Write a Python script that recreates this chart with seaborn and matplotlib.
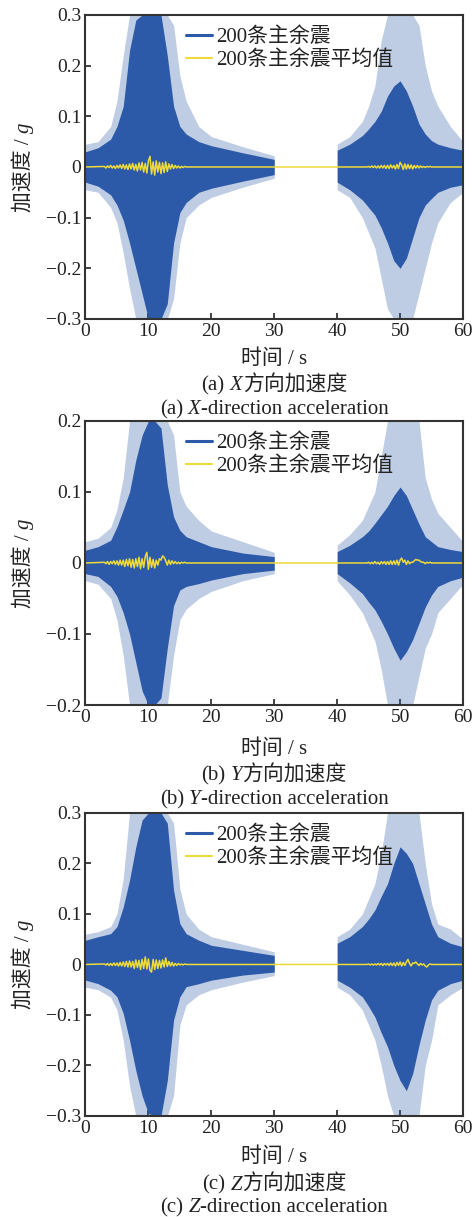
"""
200 main-aftershock records: X / Y / Z acceleration histories
Run: python plot.py
"""

import matplotlib
matplotlib.use('Agg')

import matplotlib.pyplot as plt
import numpy as np
import pandas as pd
import seaborn as sns
from matplotlib.lines import Line2D
from matplotlib.transforms import IdentityTransform


# ── Data ─────────────────────────────────────────────────────────────────────

# envelope sample times, main shock (0-30 s) and aftershock (40-60 s)
ENV_T1 = [0, 2, 4, 5, 6, 7, 8, 9, 10, 11, 12, 13, 14, 15, 16, 18, 20, 25, 30]
ENV_T2 = [40, 42, 44, 45, 46, 47, 48, 49, 50, 51, 52, 53, 54, 55, 56, 58, 60]

# X direction
X_CORE_UP1  = [0.030, 0.038, 0.055, 0.080, 0.120, 0.230, 0.290, 0.300, 0.300, 0.300, 0.300, 0.220, 0.120, 0.080, 0.065, 0.050, 0.042, 0.028, 0.015]
X_CORE_LO1  = [-0.030, -0.038, -0.055, -0.075, -0.105, -0.150, -0.200, -0.250, -0.300, -0.300, -0.300, -0.270, -0.150, -0.090, -0.070, -0.050, -0.042, -0.028, -0.015]
X_OUTER_UP1 = [0.045, 0.050, 0.080, 0.130, 0.220, 0.300, 0.300, 0.300, 0.300, 0.300, 0.300, 0.300, 0.280, 0.180, 0.130, 0.080, 0.060, 0.040, 0.022]
X_OUTER_LO1 = [-0.045, -0.050, -0.080, -0.110, -0.170, -0.240, -0.300, -0.300, -0.300, -0.300, -0.300, -0.300, -0.260, -0.150, -0.100, -0.075, -0.060, -0.040, -0.022]
X_CORE_UP2  = [0.033, 0.045, 0.062, 0.075, 0.090, 0.110, 0.140, 0.160, 0.170, 0.150, 0.120, 0.085, 0.065, 0.052, 0.045, 0.038, 0.033]
X_CORE_LO2  = [-0.030, -0.045, -0.065, -0.080, -0.095, -0.120, -0.150, -0.185, -0.200, -0.180, -0.140, -0.100, -0.075, -0.062, -0.050, -0.040, -0.035]
X_OUTER_UP2 = [0.045, 0.060, 0.090, 0.120, 0.160, 0.250, 0.300, 0.300, 0.300, 0.300, 0.300, 0.280, 0.200, 0.150, 0.120, 0.080, 0.050]
X_OUTER_LO2 = [-0.045, -0.060, -0.100, -0.130, -0.160, -0.220, -0.280, -0.300, -0.300, -0.300, -0.300, -0.250, -0.200, -0.150, -0.110, -0.070, -0.050]

# Y direction
Y_CORE_UP1  = [0.018, 0.023, 0.032, 0.051, 0.075, 0.100, 0.145, 0.180, 0.200, 0.200, 0.190, 0.110, 0.065, 0.046, 0.037, 0.030, 0.023, 0.014, 0.009]
Y_CORE_LO1  = [-0.015, -0.019, -0.033, -0.047, -0.070, -0.100, -0.140, -0.180, -0.200, -0.200, -0.190, -0.120, -0.060, -0.038, -0.033, -0.029, -0.024, -0.015, -0.010]
Y_OUTER_UP1 = [0.030, 0.035, 0.050, 0.075, 0.120, 0.200, 0.200, 0.200, 0.200, 0.200, 0.200, 0.200, 0.180, 0.100, 0.080, 0.060, 0.045, 0.030, 0.015]
Y_OUTER_LO1 = [-0.025, -0.030, -0.050, -0.080, -0.130, -0.200, -0.200, -0.200, -0.200, -0.200, -0.200, -0.200, -0.130, -0.080, -0.065, -0.050, -0.040, -0.025, -0.015]
Y_CORE_UP2  = [0.016, 0.025, 0.037, 0.045, 0.056, 0.068, 0.080, 0.095, 0.107, 0.095, 0.075, 0.055, 0.037, 0.030, 0.023, 0.019, 0.016]
Y_CORE_LO2  = [-0.015, -0.028, -0.043, -0.055, -0.066, -0.082, -0.100, -0.120, -0.137, -0.125, -0.108, -0.085, -0.062, -0.045, -0.033, -0.025, -0.020]
Y_OUTER_UP2 = [0.025, 0.040, 0.060, 0.080, 0.100, 0.150, 0.200, 0.200, 0.200, 0.200, 0.200, 0.200, 0.120, 0.090, 0.070, 0.050, 0.030]
Y_OUTER_LO2 = [-0.025, -0.045, -0.070, -0.090, -0.110, -0.150, -0.200, -0.200, -0.200, -0.200, -0.200, -0.160, -0.120, -0.100, -0.070, -0.050, -0.030]

# Z direction
Z_CORE_UP1  = [0.048, 0.055, 0.061, 0.075, 0.114, 0.167, 0.233, 0.286, 0.300, 0.300, 0.300, 0.280, 0.147, 0.081, 0.061, 0.048, 0.038, 0.028, 0.018]
Z_CORE_LO1  = [-0.031, -0.038, -0.051, -0.064, -0.097, -0.150, -0.210, -0.260, -0.295, -0.300, -0.300, -0.230, -0.110, -0.064, -0.044, -0.038, -0.031, -0.021, -0.015]
Z_OUTER_UP1 = [0.060, 0.065, 0.075, 0.100, 0.170, 0.300, 0.300, 0.300, 0.300, 0.300, 0.300, 0.300, 0.280, 0.150, 0.100, 0.070, 0.055, 0.040, 0.025]
Z_OUTER_LO1 = [-0.045, -0.050, -0.065, -0.090, -0.150, -0.240, -0.300, -0.300, -0.300, -0.300, -0.300, -0.300, -0.260, -0.120, -0.080, -0.060, -0.050, -0.035, -0.022]
Z_CORE_UP2  = [0.042, 0.055, 0.075, 0.090, 0.108, 0.135, 0.160, 0.200, 0.233, 0.220, 0.200, 0.160, 0.120, 0.080, 0.055, 0.042, 0.035]
Z_CORE_LO2  = [-0.031, -0.045, -0.064, -0.083, -0.104, -0.135, -0.163, -0.200, -0.230, -0.250, -0.216, -0.160, -0.110, -0.070, -0.051, -0.038, -0.031]
Z_OUTER_UP2 = [0.055, 0.070, 0.100, 0.130, 0.160, 0.220, 0.300, 0.300, 0.300, 0.300, 0.300, 0.300, 0.200, 0.120, 0.080, 0.070, 0.050]
Z_OUTER_LO2 = [-0.045, -0.060, -0.090, -0.120, -0.150, -0.200, -0.260, -0.300, -0.300, -0.300, -0.300, -0.300, -0.200, -0.150, -0.080, -0.060, -0.045]

# mean of the 200 records, sampled every 0.25 s from 3 s and from 45 s
MEAN_DT = 0.25
MEAN_START1, MEAN_START2 = 3.0, 45.0
X_MEAN1 = [0.001, -0.002, 0.002, -0.001, 0.003, -0.002, 0.002, -0.003, 0.003, -0.002, 0.004, -0.003,
           0.005, -0.004, 0.004, -0.005, 0.006, -0.004, 0.007, -0.006, 0.005, -0.008, 0.008, -0.006,
           0.009, -0.010, 0.007, -0.012, 0.012, 0.021, -0.014, 0.010, -0.016, 0.012, -0.010, 0.009,
           -0.013, 0.008, -0.011, 0.010, -0.009, 0.006, -0.004, 0.005, -0.003, 0.003, -0.002, 0.002,
           -0.002, 0.001, -0.001, 0.001, 0.000]
X_MEAN2 = [0.001, -0.001, 0.002, -0.001, 0.002, -0.002, 0.002, -0.002, 0.003, -0.002, 0.003, -0.003,
           0.003, -0.003, 0.004, -0.002, 0.003, -0.004, 0.005, -0.003, 0.009, 0.004, -0.005, 0.006,
           -0.004, 0.005, -0.003, 0.004, -0.004, 0.003, -0.002, 0.003, -0.002, 0.002, -0.001, 0.001,
           -0.001, 0.001, 0.000, 0.001, 0.000]
Y_MEAN1 = [0.001, -0.001, 0.002, -0.002, 0.002, -0.001, 0.003, -0.002, 0.003, -0.003, 0.004, -0.003,
           0.004, -0.005, 0.005, -0.004, 0.006, -0.006, 0.005, -0.007, 0.006, -0.005, 0.008, -0.008,
           0.006, -0.006, 0.009, 0.015, -0.009, 0.008, -0.006, 0.005, -0.007, 0.004, -0.003, 0.006,
           0.004, 0.010, 0.008, 0.003, -0.003, 0.004, -0.002, 0.003, -0.001, 0.002, -0.001, 0.001,
           -0.001, 0.001, 0.000, 0.001, 0.000]
Y_MEAN2 = [0.001, -0.001, 0.001, -0.001, 0.002, -0.001, 0.001, -0.002, 0.002, -0.001, 0.002, -0.002,
           0.002, -0.002, 0.003, -0.002, 0.003, -0.002, 0.004, -0.003, 0.004, 0.007, 0.001, 0.004,
           -0.002, 0.003, -0.001, 0.001, 0.001, 0.003, 0.005, 0.004, 0.004, 0.002, 0.001, 0.001,
           -0.001, 0.001, 0.000, 0.001, 0.000]
Z_MEAN1 = [0.001, -0.001, 0.002, -0.002, 0.002, -0.002, 0.003, -0.002, 0.003, -0.003, 0.004, -0.003,
           0.005, -0.004, 0.006, -0.005, 0.007, -0.005, 0.006, -0.008, 0.009, -0.006, 0.008, -0.010,
           0.010, -0.008, 0.015, -0.009, 0.011, -0.012, -0.015, 0.010, -0.010, 0.009, -0.008, 0.008,
           -0.007, 0.009, -0.005, 0.013, -0.004, 0.006, -0.003, 0.004, -0.003, 0.002, -0.002, 0.002,
           -0.001, 0.001, -0.001, 0.001, 0.000]
Z_MEAN2 = [0.001, -0.001, 0.001, -0.001, 0.001, -0.001, 0.002, -0.001, 0.002, -0.002, 0.002, -0.001,
           0.002, -0.002, 0.003, -0.002, 0.003, -0.003, 0.004, -0.002, 0.005, -0.003, 0.004, -0.002,
           0.005, 0.010, 0.002, -0.003, 0.003, 0.002, 0.005, 0.001, -0.002, 0.002, -0.001, 0.001,
           -0.003, -0.005, -0.001, 0.001, 0.000]

# quiet parts of the mean record (reads as 0)
MEAN_QUIET_T = [0.0, 16.25, 44.75, 60.0]

Y_LIMITS      = [0.3, 0.2, 0.3]
Y_TICKS       = [[-0.3, -0.2, -0.1, 0, 0.1, 0.2, 0.3], [-0.2, -0.1, 0, 0.1, 0.2], [-0.3, -0.2, -0.1, 0, 0.1, 0.2, 0.3]]
Y_TICK_LABELS = [['−0.3', '−0.2', '−0.1', '0', '0.1', '0.2', '0.3'], ['−0.2', '−0.1', '0', '0.1', '0.2'],
                 ['−0.3', '−0.2', '−0.1', '0', '0.1', '0.2', '0.3']]
X_TICKS       = [0, 10, 20, 30, 40, 50, 60]
PANEL_TAGS    = ['(a)', '(b)', '(c)']
DIRECTIONS    = ['X', 'Y', 'Z']
LEGEND_LABELS = ['200条主余震', '200条主余震平均值']


# ── Style ────────────────────────────────────────────────────────────────────

BLUE   = '#2C5AA8'
YELLOW = '#EEDB3A'
INK    = '#222222'
FS     = 14      # tick labels
FS_TXT = 15      # axis labels, captions, legend
FIG_W, FIG_H, DPI = 476, 1217, 100

sns.set_style('ticks')
plt.rcParams['font.family'] = ['Liberation Serif', 'Noto Sans CJK SC']
plt.rcParams['axes.unicode_minus'] = False


# ── Helpers ──────────────────────────────────────────────────────────────────

def rich_text(fig, x_px, y_px, pieces, rotation=0, size=FS_TXT):
    """Mixed upright/italic text centred at (x_px, y_px), y measured from the top."""
    renderer = fig.canvas.get_renderer()
    em = size * DPI / 72
    arts = []
    for s, style, gap in pieces:
        t = fig.text(0, 0, s, fontsize=size, fontstyle=style, color=INK, rotation=rotation,
                     rotation_mode='anchor', ha='left', va='baseline', transform=IdentityTransform())
        bb = t.get_window_extent(renderer)
        arts.append((t, gap, bb.height if rotation else bb.width))
    total = sum(w + g * em for _, g, w in arts)
    y_disp = FIG_H - y_px
    pos = -total / 2
    for t, gap, w in arts:
        pos += gap * em
        if rotation:
            t.set_position((x_px + 0.36 * em, y_disp + pos))
        else:
            t.set_position((x_px + pos, y_disp - 0.36 * em))
        pos += w


# ── Figure ───────────────────────────────────────────────────────────────────

fig = plt.figure(figsize=(FIG_W / DPI, FIG_H / DPI), dpi=DPI)

# axes rectangles in figure fractions (left, bottom, width, height)
AX_RECTS = [
    (0.1796, 0.7379, 0.7931, 0.2498),
    (0.1796, 0.4207, 0.7931, 0.2334),
    (0.1796, 0.0830, 0.7931, 0.2490),
]
# pixel rows (from top) of x label, Chinese caption, English caption
TEXT_ROWS = [(357, 383, 407), (747, 773, 797), (1155, 1182, 1205)]

panels = [
    (X_CORE_UP1, X_CORE_LO1, X_OUTER_UP1, X_OUTER_LO1, X_CORE_UP2, X_CORE_LO2, X_OUTER_UP2, X_OUTER_LO2, X_MEAN1, X_MEAN2),
    (Y_CORE_UP1, Y_CORE_LO1, Y_OUTER_UP1, Y_OUTER_LO1, Y_CORE_UP2, Y_CORE_LO2, Y_OUTER_UP2, Y_OUTER_LO2, Y_MEAN1, Y_MEAN2),
    (Z_CORE_UP1, Z_CORE_LO1, Z_OUTER_UP1, Z_OUTER_LO1, Z_CORE_UP2, Z_CORE_LO2, Z_OUTER_UP2, Z_OUTER_LO2, Z_MEAN1, Z_MEAN2),
]

for i, (cu1, cl1, ou1, ol1, cu2, cl2, ou2, ol2, m1, m2) in enumerate(panels):
    ax = fig.add_axes(AX_RECTS[i])

    # envelopes of the 200 records: faint outer spread + dense core
    for t, up, lo, alpha in [(ENV_T1, ou1, ol1, 0.3), (ENV_T2, ou2, ol2, 0.3),
                             (ENV_T1, cu1, cl1, 1.0), (ENV_T2, cu2, cl2, 1.0)]:
        ax.fill_between(t, lo, up, color=BLUE, alpha=alpha, linewidth=0)

    # mean record
    t1 = MEAN_START1 + MEAN_DT * np.arange(len(m1))
    t2 = MEAN_START2 + MEAN_DT * np.arange(len(m2))
    mean_df = pd.DataFrame({
        't': np.concatenate([[MEAN_QUIET_T[0]], t1, [MEAN_QUIET_T[1], MEAN_QUIET_T[2]], t2, [MEAN_QUIET_T[3]]]),
        'a': np.concatenate([[0.0], m1, [0.0, 0.0], m2, [0.0]]),
    })
    sns.lineplot(data=mean_df, x='t', y='a', color=YELLOW, linewidth=1.1, sort=False,
                 estimator=None, ax=ax)

    lim = Y_LIMITS[i]
    ax.set_xlim(0, 60)
    ax.set_ylim(-lim, lim)
    ax.set_xticks(X_TICKS)
    ax.set_xticklabels([str(v) for v in X_TICKS])
    ax.set_yticks(Y_TICKS[i])
    ax.set_yticklabels(Y_TICK_LABELS[i])
    ax.tick_params(direction='in', length=4, width=1.2, labelsize=FS, colors=INK, pad=3)
    for side in ax.spines.values():
        side.set_linewidth(1.5)
        side.set_color('#333333')
    ax.set_xlabel('')
    ax.set_ylabel('')

    handles = [Line2D([], [], color=BLUE, linewidth=2.2), Line2D([], [], color=YELLOW, linewidth=1.5)]
    ax.legend(handles, LEGEND_LABELS, loc='upper left', bbox_to_anchor=(0.232, 1.0), frameon=False,
              fontsize=FS_TXT, handlelength=1.25, handletextpad=0.2, labelspacing=0.15,
              borderaxespad=0.2, labelcolor=INK)

    # axis labels and captions
    left, bottom, width, height = AX_RECTS[i]
    cx = (left + width / 2) * FIG_W
    cy = (1 - bottom - height / 2) * FIG_H
    xrow, cn_row, en_row = TEXT_ROWS[i]
    rich_text(fig, cx, xrow, [('时间 / s', 'normal', 0)])
    rich_text(fig, 21, cy, [('加速度 /', 'normal', 0), ('g', 'italic', 0.25)], rotation=90)
    rich_text(fig, cx, cn_row, [(PANEL_TAGS[i], 'normal', 0), (DIRECTIONS[i], 'italic', 0.25),
                                ('方向加速度', 'normal', 0)])
    rich_text(fig, cx, en_row, [(PANEL_TAGS[i], 'normal', 0), (DIRECTIONS[i], 'italic', 0.25),
                                ('-direction acceleration', 'normal', 0)])

fig.savefig('out.png', dpi=DPI, facecolor='white')
